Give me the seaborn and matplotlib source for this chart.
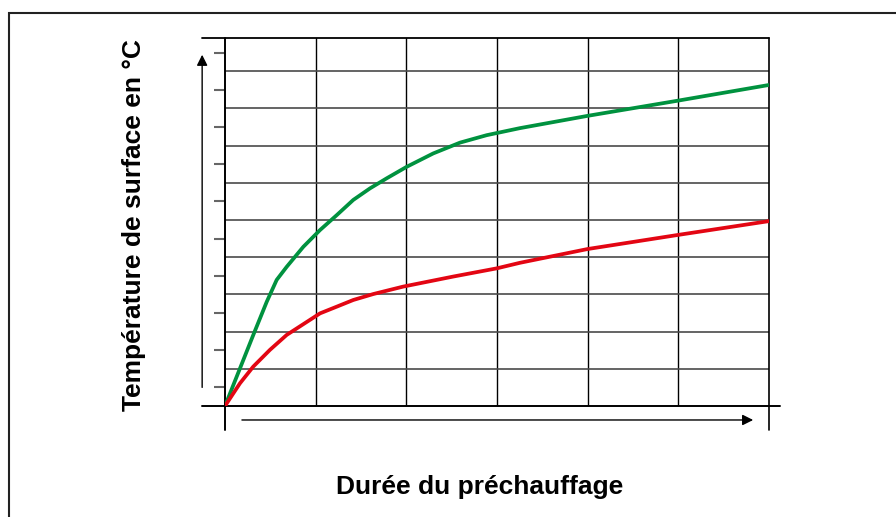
"""Preheating curves: surface temperature vs preheating time."""

import matplotlib.pyplot as plt
import pandas as pd
import seaborn as sns
from matplotlib.patches import Rectangle

# values (x in grid columns, y in grid rows)
green_x = [0.0, 0.165, 0.312, 0.46, 0.57, 0.68, 0.864, 1.048, 1.232, 1.415, 1.599,
           1.783, 2.004, 2.297, 2.592, 2.886, 3.254, 4.0, 5.0, 6.0]
green_y = [0.0, 1.01, 1.91, 2.80, 3.39, 3.74, 4.28, 4.73, 5.13, 5.54, 5.85,
           6.12, 6.43, 6.79, 7.08, 7.28, 7.47, 7.80, 8.21, 8.63]
red_x = [0.0, 0.165, 0.312, 0.496, 0.68, 0.864, 1.048, 1.232, 1.415, 1.636,
         1.966, 2.518, 2.997, 3.254, 4.0, 5.0, 6.0]
red_y = [0.0, 0.61, 1.06, 1.51, 1.91, 2.20, 2.49, 2.67, 2.85, 3.01,
         3.21, 3.48, 3.70, 3.85, 4.22, 4.60, 4.97]

x_grid = [1, 2, 3, 4, 5]
y_grid = [1, 2, 3, 4, 5, 6, 7, 8, 9]
y_ticks = [0.5, 1.5, 2.5, 3.5, 4.5, 5.5, 6.5, 7.5, 8.5, 9.5]

x_label = "Durée du préchauffage"
y_label = "Température de surface en °C"

df = pd.concat([
    pd.DataFrame({"x": green_x, "y": green_y, "serie": "vert"}),
    pd.DataFrame({"x": red_x, "y": red_y, "serie": "rouge"}),
])

sns.set_style("white")
plt.rcParams["font.family"] = ["Liberation Sans", "DejaVu Sans"]

fig = plt.figure(figsize=(8.96, 5.17), dpi=100)
ax = fig.add_axes([225 / 896, 1 - 406 / 517, 544 / 896, 368 / 517])

sns.lineplot(
    data=df, x="x", y="y", hue="serie",
    palette={"vert": "#00923f", "rouge": "#e30613"},
    linewidth=2.7, legend=False, sort=False, ax=ax, zorder=5,
)
for line in ax.get_lines():
    line.set_solid_joinstyle("round")
    line.set_solid_capstyle("round")

ax.set_xlim(0, 6)
ax.set_ylim(0, 368 / 37.2)

# grid lines
for gx in x_grid:
    ax.axvline(gx, color="black", lw=1.0, zorder=1)
for gy in y_grid:
    ax.axhline(gy, color="#4a4a4a", lw=1.2, zorder=1)

# frame lines, some running past the plot area
ax.axhline(0, xmin=-0.042, xmax=1.02, color="black", lw=1.4, clip_on=False, zorder=3)
ax.axhline(ax.get_ylim()[1], xmin=-0.042, xmax=1.0, color="black", lw=1.3, clip_on=False, zorder=3)
ax.axvline(0, ymin=-0.065, ymax=1.0, color="black", lw=1.4, clip_on=False, zorder=3)
ax.axvline(6, ymin=-0.065, ymax=1.0, color="black", lw=1.2, clip_on=False, zorder=3)
for side in ["left", "right", "top", "bottom"]:
    ax.spines[side].set_visible(False)

ax.set_xticks([])
ax.set_yticks(y_ticks)
ax.set_yticklabels([])
ax.tick_params(axis="y", left=True, length=8, width=1.5, color="#666666",
               direction="out", pad=0)
ax.set_xlabel("")
ax.set_ylabel("")

# axis arrows
arrow = dict(arrowstyle="-|>", color="black", lw=1.0, mutation_scale=16)
ax.annotate("", xy=(-0.042, 0.962), xytext=(-0.042, 0.043),
            xycoords="axes fraction", textcoords="axes fraction", arrowprops=arrow)
ax.annotate("", xy=(0.976, -0.038), xytext=(0.026, -0.038),
            xycoords="axes fraction", textcoords="axes fraction", arrowprops=arrow)

fig.text(480 / 896, 1 - 487 / 517, x_label, ha="center", va="center",
         fontsize=19, fontweight="bold", color="black")
fig.text(134 / 896, 1 - 225 / 517, y_label, ha="center", va="center",
         rotation=90, fontsize=19, fontweight="bold", color="black")

# outer frame
fig.patches.append(Rectangle((9 / 896, -0.05), 1.1, 0.05 + 1 - 12.5 / 517,
                             transform=fig.transFigure, fill=False,
                             edgecolor="#222222", lw=1.5))

fig.savefig("out.png", dpi=100)
